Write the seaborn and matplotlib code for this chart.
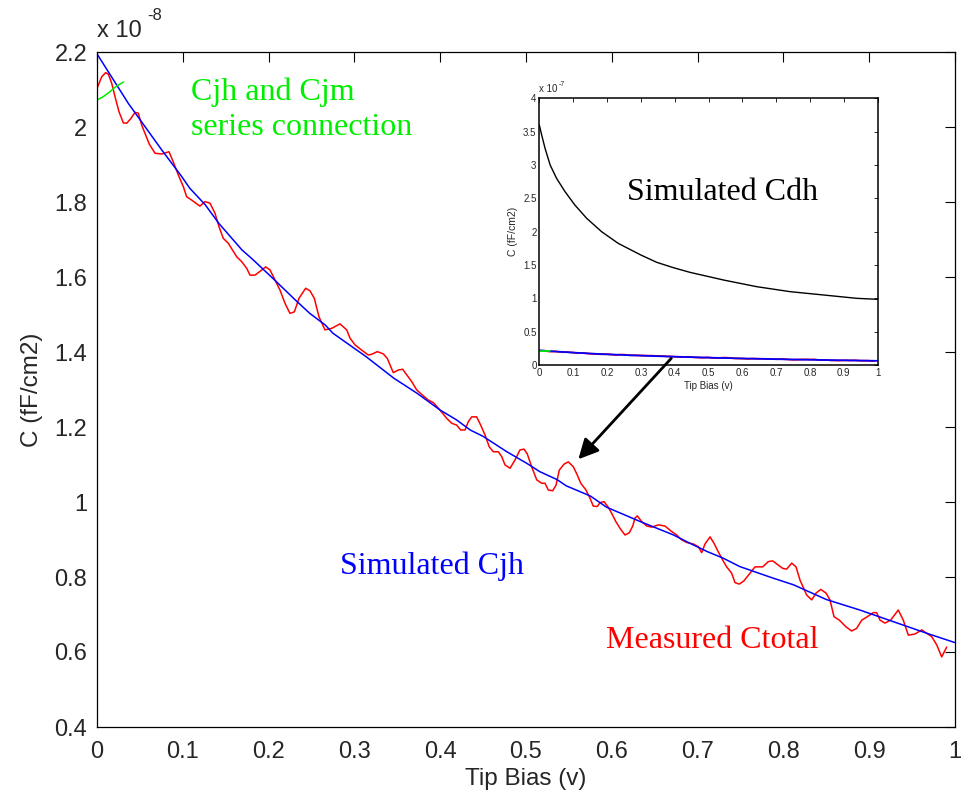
import matplotlib
matplotlib.use("Agg")
import matplotlib.pyplot as plt
import seaborn as sns

# ---- data (capacitance in units of 1e-8 F, tip bias in volts) ----
bias_meas = [0.0, 0.0055, 0.0101, 0.0132, 0.0171, 0.0210, 0.0256, 0.0307, 0.0346, 0.0396,
             0.0443, 0.0481, 0.0521, 0.0559, 0.0610, 0.0676, 0.0754, 0.0839, 0.0889, 0.0948,
             0.1006, 0.1045, 0.1104, 0.1200, 0.1259, 0.1317, 0.1375, 0.1422, 0.1472, 0.1530,
             0.1628, 0.1686, 0.1745, 0.1783, 0.1841, 0.1911, 0.1966, 0.2016, 0.2075, 0.2133,
             0.2191, 0.2249, 0.2300, 0.2354, 0.2432, 0.2483, 0.2533, 0.2587, 0.2657, 0.2735,
             0.2832, 0.2910, 0.2949, 0.3007, 0.3085, 0.3162, 0.3202, 0.3267, 0.3337, 0.3383,
             0.3453, 0.3512, 0.3563, 0.3610, 0.3668, 0.3726, 0.3803, 0.3861, 0.3920, 0.3998,
             0.4076, 0.4134, 0.4192, 0.4239, 0.4289, 0.4327, 0.4367, 0.4425, 0.4472, 0.4522,
             0.4572, 0.4619, 0.4677, 0.4717, 0.4755, 0.4814, 0.4872, 0.4930, 0.4977, 0.5015,
             0.5066, 0.5125, 0.5183, 0.5221, 0.5260, 0.5311, 0.5350, 0.5388, 0.5443, 0.5493,
             0.5551, 0.5598, 0.5638, 0.5699, 0.5746, 0.5784, 0.5831, 0.5862, 0.5909, 0.5959,
             0.5998, 0.6049, 0.6104, 0.6154, 0.6204, 0.6244, 0.6270, 0.6297, 0.6348, 0.6407,
             0.6465, 0.6542, 0.6620, 0.6687, 0.6756, 0.6815, 0.6873, 0.6950, 0.7008, 0.7048,
             0.7086, 0.7145, 0.7191, 0.7241, 0.7293, 0.7339, 0.7397, 0.7436, 0.7486, 0.7541,
             0.7603, 0.7669, 0.7759, 0.7824, 0.7875, 0.7922, 0.7992, 0.8038, 0.8097, 0.8147,
             0.8193, 0.8271, 0.8330, 0.8380, 0.8435, 0.8497, 0.8543, 0.8590, 0.8652, 0.8730,
             0.8796, 0.8854, 0.8913, 0.8971, 0.9048, 0.9087, 0.9126, 0.9184, 0.9250, 0.9339,
             0.9397, 0.9456, 0.9534, 0.9612, 0.9670, 0.9728, 0.9787, 0.9845, 0.9903]
c_total = [2.103, 2.134, 2.145, 2.141, 2.117, 2.081, 2.041, 2.011, 2.010, 2.023,
           2.039, 2.037, 2.005, 1.983, 1.954, 1.930, 1.928, 1.934, 1.907, 1.872,
           1.841, 1.814, 1.805, 1.789, 1.801, 1.797, 1.770, 1.734, 1.703, 1.690,
           1.654, 1.641, 1.623, 1.605, 1.605, 1.617, 1.627, 1.619, 1.592, 1.565,
           1.530, 1.503, 1.507, 1.543, 1.570, 1.563, 1.543, 1.494, 1.459, 1.463,
           1.475, 1.459, 1.437, 1.419, 1.405, 1.392, 1.394, 1.401, 1.395, 1.383,
           1.345, 1.352, 1.354, 1.339, 1.321, 1.299, 1.283, 1.272, 1.265, 1.245,
           1.223, 1.210, 1.205, 1.192, 1.192, 1.214, 1.227, 1.227, 1.205, 1.179,
           1.147, 1.134, 1.134, 1.121, 1.099, 1.090, 1.112, 1.139, 1.141, 1.128,
           1.094, 1.059, 1.050, 1.050, 1.032, 1.030, 1.045, 1.085, 1.101, 1.107,
           1.094, 1.072, 1.050, 1.032, 1.010, 0.989, 0.988, 0.998, 1.001, 0.986,
           0.970, 0.947, 0.927, 0.912, 0.918, 0.936, 0.957, 0.963, 0.948, 0.936,
           0.933, 0.939, 0.936, 0.923, 0.912, 0.899, 0.892, 0.888, 0.881, 0.865,
           0.888, 0.907, 0.890, 0.867, 0.845, 0.827, 0.810, 0.785, 0.781, 0.790,
           0.808, 0.827, 0.827, 0.841, 0.843, 0.835, 0.823, 0.821, 0.837, 0.827,
           0.792, 0.752, 0.739, 0.757, 0.767, 0.757, 0.739, 0.694, 0.685, 0.667,
           0.656, 0.663, 0.685, 0.693, 0.705, 0.705, 0.685, 0.677, 0.685, 0.712,
           0.685, 0.645, 0.648, 0.659, 0.650, 0.641, 0.619, 0.587, 0.613]

bias_sim = [0.0, 0.0365, 0.0754, 0.0987, 0.108, 0.126, 0.142, 0.169, 0.180, 0.207,
            0.231, 0.248, 0.266, 0.275, 0.314, 0.346, 0.373, 0.400, 0.419, 0.435,
            0.450, 0.477, 0.501, 0.516, 0.536, 0.547, 0.575, 0.594, 0.633, 0.672,
            0.691, 0.711, 0.730, 0.749, 0.769, 0.788, 0.812, 0.850, 0.889, 0.928,
            0.967, 1.0]
c_jh = [2.195, 2.063, 1.939, 1.868, 1.837, 1.793, 1.743, 1.672, 1.650, 1.592,
        1.539, 1.503, 1.472, 1.450, 1.387, 1.330, 1.290, 1.245, 1.219, 1.192,
        1.175, 1.135, 1.103, 1.081, 1.060, 1.043, 1.016, 0.986, 0.948, 0.912,
        0.890, 0.868, 0.850, 0.828, 0.812, 0.797, 0.779, 0.740, 0.712, 0.681,
        0.650, 0.625]

bias_series = [0.0, 0.0073, 0.015, 0.021, 0.027, 0.031]
c_series = [2.072, 2.081, 2.094, 2.106, 2.115, 2.120]

# depletion capacitance, units of 1e-7 F
bias_dh = [0.0, 0.007, 0.017, 0.032, 0.051, 0.076, 0.105, 0.140, 0.184, 0.233,
           0.300, 0.347, 0.396, 0.445, 0.544, 0.642, 0.741, 0.84, 0.938, 1.0]
c_dh = [3.6, 3.45, 3.25, 3.0, 2.80, 2.60, 2.40, 2.20, 2.0, 1.825,
        1.65, 1.54, 1.46, 1.39, 1.275, 1.175, 1.1, 1.05, 1.0, 0.985]

main_xticks = [0, 0.1, 0.2, 0.3, 0.4, 0.5, 0.6, 0.7, 0.8, 0.9, 1]
main_xlabels = ["0", "0.1", "0.2", "0.3", "0.4", "0.5", "0.6", "0.7", "0.8", "0.9", "1"]
main_yticks = [0.4, 0.6, 0.8, 1.0, 1.2, 1.4, 1.6, 1.8, 2.0, 2.2]
main_ylabels = ["0.4", "0.6", "0.8", "1", "1.2", "1.4", "1.6", "1.8", "2", "2.2"]
inset_yticks = [0, 0.5, 1, 1.5, 2, 2.5, 3, 3.5, 4]
inset_ylabels = ["0", "0.5", "1", "1.5", "2", "2.5", "3", "3.5", "4"]

# ---- style ----
sns.set_style("white")
plt.rcParams["font.family"] = ["Liberation Sans", "DejaVu Sans"]
SERIF = ["Liberation Serif", "DejaVu Serif"]
GREEN = "#00ee00"

W, H = 961, 799
fig = plt.figure(figsize=(W / 100, H / 100), dpi=100)
fig.patch.set_facecolor("white")

def frac(left, top, right, bottom):
    return [left / W, 1 - bottom / H, (right - left) / W, (bottom - top) / H]

ax = fig.add_axes(frac(97, 52, 955, 727))
ax_in = fig.add_axes(frac(539.3, 98.3, 877.7, 365))

# ---- main panel ----
sns.lineplot(x=bias_meas, y=c_total, ax=ax, color="#ff0000", lw=1.1,
             estimator=None, sort=False)
sns.lineplot(x=bias_sim, y=c_jh, ax=ax, color="#0000ff", lw=1.1,
             estimator=None, sort=False)
sns.lineplot(x=bias_series, y=c_series, ax=ax, color=GREEN, lw=1.1,
             estimator=None, sort=False)

ax.set_xlim(0, 1)
ax.set_ylim(0.4, 2.2)
ax.set_xticks(main_xticks, main_xlabels)
ax.set_yticks(main_yticks, main_ylabels)
ax.tick_params(direction="in", top=True, right=True, length=7, width=0.8,
               labelsize=17, color="black")
ax.tick_params(axis="x", pad=10)
ax.tick_params(axis="y", pad=7)
for s in ax.spines.values():
    s.set_color("black")
    s.set_linewidth(0.9)
ax.set_xlabel("Tip Bias (v)", fontsize=17.5, labelpad=4)
ax.set_ylabel("C (fF/cm2)", fontsize=17.5, labelpad=8)

ax.text(0, 1.0225, "x 10", transform=ax.transAxes, fontsize=17, va="baseline")
ax.text(0.058, 1.0475, "-8", transform=ax.transAxes, fontsize=12, va="baseline")

ax.text(0.1092, 2.072, "Cjh and Cjm", color=GREEN, fontsize=23,
        family=SERIF, va="baseline")
ax.text(0.1092, 1.979, "series connection", color=GREEN, fontsize=23,
        family=SERIF, va="baseline")
ax.text(0.2832, 0.809, "Simulated Cjh", color="#0000ff", fontsize=23,
        family=SERIF, va="baseline")
ax.text(0.5932, 0.611, "Measured Ctotal", color="#ff0000", fontsize=23,
        family=SERIF, va="baseline")

# ---- inset panel (units of 1e-7) ----
sc = 0.1
sns.lineplot(x=bias_meas, y=[v * sc for v in c_total], ax=ax_in, color="#ff0000",
             lw=1.3, estimator=None, sort=False)
sns.lineplot(x=bias_sim, y=[v * sc for v in c_jh], ax=ax_in, color="#0000ff",
             lw=1.3, estimator=None, sort=False)
sns.lineplot(x=bias_series, y=[v * sc for v in c_series], ax=ax_in, color=GREEN,
             lw=1.3, estimator=None, sort=False)
sns.lineplot(x=bias_dh, y=c_dh, ax=ax_in, color="black", lw=1.0,
             estimator=None, sort=False)

ax_in.set_facecolor("white")
ax_in.set_xlim(0, 1)
ax_in.set_ylim(0, 4)
ax_in.set_xticks(main_xticks, main_xlabels)
ax_in.set_yticks(inset_yticks, inset_ylabels)
ax_in.tick_params(direction="in", top=True, right=True, length=3, width=0.7,
                  labelsize=7, pad=2)
for s in ax_in.spines.values():
    s.set_color("black")
    s.set_linewidth(1.1)
ax_in.set_xlabel("Tip Bias (v)", fontsize=7, labelpad=2)
ax_in.set_ylabel("C (fF/cm2)", fontsize=7.5, labelpad=4)
ax_in.text(0, 1.025, "x 10", transform=ax_in.transAxes, fontsize=7, va="baseline")
ax_in.text(0.058, 1.045, "-7", transform=ax_in.transAxes, fontsize=5, va="baseline")
ax_in.text(0.258, 2.475, "Simulated Cdh", color="black", fontsize=23,
           family=SERIF, va="baseline")

# pointer from the inset's low curves to the measured trace
ax_in.annotate("", xy=(0.561, 1.114), xycoords=ax.transData,
               xytext=(0.39, 0.1), textcoords=ax_in.transData,
               arrowprops=dict(arrowstyle="-|>,head_length=0.6,head_width=0.3",
                               mutation_scale=20, lw=2, color="black",
                               shrinkA=0, shrinkB=0),
               annotation_clip=False)

fig.savefig("out.png", dpi=100, facecolor="white")
